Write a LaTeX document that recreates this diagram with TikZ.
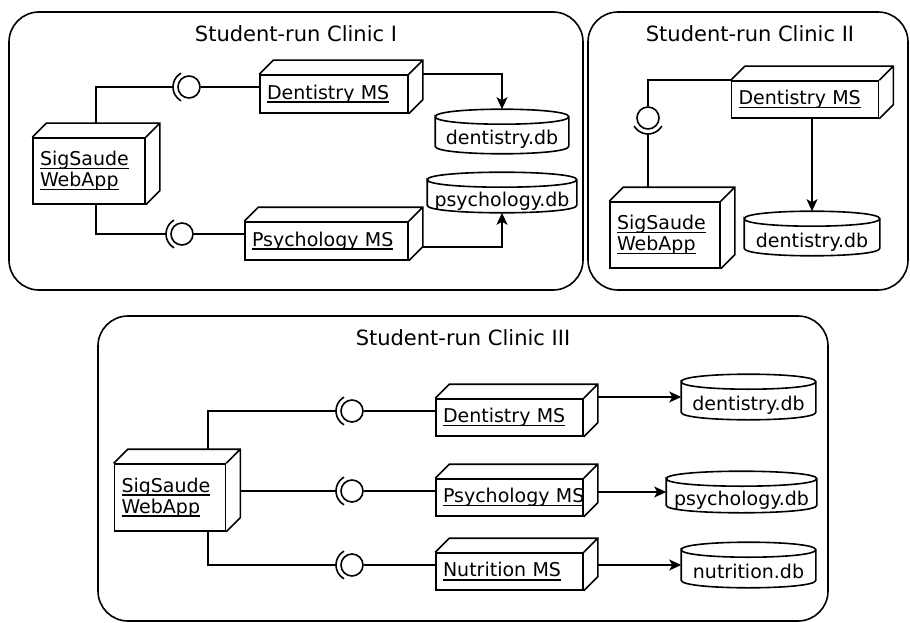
\documentclass[tikz,border=0pt]{standalone}
\usepackage{fontspec}
\setmainfont{DejaVu Sans}
\usetikzlibrary{shapes.geometric, arrows.meta, positioning}

\newsavebox{\undlbox}
\newcommand{\undl}[1]{\mbox{\sbox{\undlbox}{#1}\rlap{\rule[-3.6pt]{\wd\undlbox}{1.4pt}}\usebox{\undlbox}}}

\begin{document}
\begin{tikzpicture}[x=1pt, y=-1pt, line width=1.6pt,
    panel/.style={draw, rectangle, rounded corners=30pt},
    title/.style={anchor=base, font=\fontsize{21}{25}\selectfont},
    node3d/.style={draw, rectangle, inner xsep=7pt, inner ysep=0pt, align=left,
        font=\fontsize{19}{21}\selectfont,
        append after command={\pgfextra{\draw (\tikzlastnode.north west) -- ++(14pt,14pt)
            -| ([shift={(14pt,14pt)}]\tikzlastnode.south east) -- (\tikzlastnode.south east)
            (\tikzlastnode.north east) -- ++(14pt,14pt);}}},
    db/.style={rectangle, inner sep=0pt, text height=27pt, text depth=0pt,
        font=\fontsize{19}{21}\selectfont,
        append after command={\pgfextra{\draw ([yshift=-7.5pt]\tikzlastnode.north west)
            .. controls +(0,10pt) and +(0,10pt) .. ([yshift=-7.5pt]\tikzlastnode.north east)
            .. controls +(0,-10pt) and +(0,-10pt) .. ([yshift=-7.5pt]\tikzlastnode.north west)
            -- ([yshift=7.5pt]\tikzlastnode.south west)
            .. controls +(0,-10pt) and +(0,-10pt) .. ([yshift=7.5pt]\tikzlastnode.south east)
            -- ([yshift=-7.5pt]\tikzlastnode.north east);}}},
    iface/.style={draw, circle, minimum size=22pt, inner sep=0pt},
    arr/.style={-{Stealth[length=12pt, width=11pt, inset=3pt]}}]

    \useasboundingbox (0,0) rectangle (910,623);

    % Clinic I
    \node[panel, minimum width=574pt, minimum height=278pt] (clinic1) at (296,151) {};
    \node[title] (t1) at (296,42) {Student-run Clinic I};
    \node[node3d, text width=98pt, minimum height=66pt] (web1) at (89,171) {\undl{SigSaude}\\\undl{WebApp}};
    \node[node3d, text width=134pt, minimum height=38pt] (dent1) at (334,94) {\undl{Dentistry MS}};
    \node[node3d, text width=149pt, minimum height=38pt] (psy1) at (326.5,241) {\undl{Psychology MS}};
    \node[db, minimum width=132pt, minimum height=43pt] (dentdb1) at (502,131.5) {dentistry.db};
    \node[db, minimum width=148pt, minimum height=39pt] (psydb1) at (502,192.5) {psychology.db};
    \node[iface] (i1) at (189,87) {};
    \node[iface] (i2) at (182,234) {};
    \coordinate (s1) at ([xshift=-16pt]i1.center);
    \coordinate (s2) at ([xshift=-16pt]i2.center);
    \draw ([shift={(120:16pt)}]i1.center) arc[start angle=120, end angle=240, radius=16pt];
    \draw ([shift={(120:16pt)}]i2.center) arc[start angle=120, end angle=240, radius=16pt];

    \draw ([xshift=7pt,yshift=14pt]web1.north) |- (s1);
    \draw (i1) -- (i1 -| dent1.west);
    \draw ([xshift=7pt]web1.south) |- (s2);
    \draw (i2) -- (i2 -| psy1.west);
    \draw[arr] ([xshift=14pt]dent1.north east) -| (dentdb1.north);
    \draw[arr] ([shift={(14pt,14pt)}]psy1.south east) -| (psydb1.south);

    % Clinic II
    \node[panel, minimum width=320pt, minimum height=278pt] (clinic2) at (748,151) {};
    \node[title] (t2) at (750,42) {Student-run Clinic II};
    \node[node3d, text width=133pt, minimum height=37pt] (dent2) at (805,99.5) {\undl{Dentistry MS}};
    \node[node3d, text width=96pt, minimum height=66pt] (web2) at (665,235) {\undl{SigSaude}\\\undl{WebApp}};
    \node[db, minimum width=134pt, minimum height=43pt] (dentdb2) at (812,233.5) {dentistry.db};
    \node[iface] (i3) at (648,118) {};
    \coordinate (s3) at ([yshift=-16pt]i3.center);
    \draw ([shift={(210:16pt)}]i3.center) arc[start angle=210, end angle=330, radius=16pt];

    \draw (dent2.north west) -| (i3);
    \draw (s3) -- ([yshift=14pt]web2.north -| s3);
    \draw[arr] ([xshift=7pt]dent2.south) -- (dentdb2.north);

    % Clinic III
    \node[panel, minimum width=730pt, minimum height=305pt] (clinic3) at (463,468.5) {};
    \node[title] (t3) at (463,345) {Student-run Clinic III};
    \node[node3d, text width=97pt, minimum height=67pt] (web3) at (170,497.5) {\undl{SigSaude}\\\undl{WebApp}};
    \node[node3d, text width=133pt, minimum height=37pt] (dent3) at (509.5,417.5) {\undl{Dentistry MS}};
    \node[node3d, text width=133pt, minimum height=37pt] (psy3) at (509.5,497.5) {\undl{Psychology MS}};
    \node[node3d, text width=133pt, minimum height=37pt] (nutr3) at (509.5,571.5) {\undl{Nutrition MS}};
    \node[db, minimum width=133pt, minimum height=44pt] (dentdb3) at (748.5,397) {dentistry.db};
    \node[db, minimum width=149pt, minimum height=40pt] (psydb3) at (741.5,492) {psychology.db};
    \node[db, minimum width=133pt, minimum height=44pt] (nutrdb3) at (748.5,565) {nutrition.db};
    \node[iface] (i4) at (352,411) {};
    \node[iface] (i5) at (352,491) {};
    \node[iface] (i6) at (352,565) {};
    \coordinate (s4) at ([xshift=-16pt]i4.center);
    \coordinate (s5) at ([xshift=-16pt]i5.center);
    \coordinate (s6) at ([xshift=-16pt]i6.center);
    \draw ([shift={(120:16pt)}]i4.center) arc[start angle=120, end angle=240, radius=16pt];
    \draw ([shift={(120:16pt)}]i5.center) arc[start angle=120, end angle=240, radius=16pt];
    \draw ([shift={(120:16pt)}]i6.center) arc[start angle=120, end angle=240, radius=16pt];

    \draw ([xshift=38pt,yshift=14pt]web3.north) |- (s4);
    \draw ([xshift=14pt]web3.east |- s5) -- (s5);
    \draw ([xshift=38pt]web3.south) |- (s6);
    \draw (i4) -- (i4 -| dent3.west);
    \draw (i5) -- (i5 -| psy3.west);
    \draw (i6) -- (i6 -| nutr3.west);
    \draw[arr] ([xshift=14pt]dent3.east |- dentdb3.west) -- (dentdb3.west);
    \draw[arr] ([xshift=14pt]psy3.east |- psydb3.west) -- (psydb3.west);
    \draw[arr] ([xshift=14pt]nutr3.east |- nutrdb3.west) -- (nutrdb3.west);
\end{tikzpicture}
\end{document}
